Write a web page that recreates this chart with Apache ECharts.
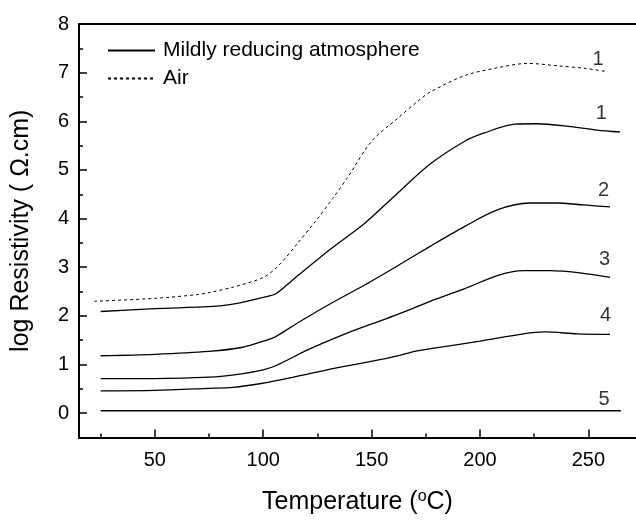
<!DOCTYPE html>
<html>
<head>
<meta charset="utf-8">
<script src="https://cdn.jsdelivr.net/npm/echarts@6/dist/echarts.min.js"></script>
<style>
html,body{margin:0;padding:0;background:#fff;}
#chart{width:636px;height:520px;}
</style>
</head>
<body>
<div id="chart"></div>
<script>
// Air (curve 1, dotted)
const airX = [22, 50, 70, 75, 86, 100, 107, 116, 124, 132, 139, 150, 162, 171, 177, 193, 208, 222, 236, 248, 259];
const airY = [2.30, 2.36, 2.44, 2.48, 2.59, 2.79, 3.03, 3.50, 3.94, 4.41, 4.85, 5.59, 6.06, 6.40, 6.60, 6.94, 7.10, 7.19, 7.14, 7.09, 7.02];
// Mildly reducing atmosphere, samples 1..5
const c1X = [25, 50, 75, 86, 101, 106, 116, 131, 147, 160, 177, 193, 202, 216, 226, 242, 254, 264.5];
const c1Y = [2.09, 2.15, 2.19, 2.24, 2.39, 2.46, 2.83, 3.37, 3.91, 4.44, 5.12, 5.59, 5.76, 5.94, 5.95, 5.89, 5.82, 5.78];
const c2X = [25, 50, 75, 90, 100, 106, 116, 131, 147, 162, 177, 193, 208, 223, 235, 248, 260];
const c2Y = [1.18, 1.21, 1.27, 1.35, 1.48, 1.58, 1.86, 2.25, 2.64, 3.03, 3.43, 3.84, 4.18, 4.32, 4.32, 4.28, 4.24];
const c3X = [25, 50, 75, 90, 100, 106, 121, 139, 156, 162, 171, 177, 193, 208, 220, 232, 247, 260];
const c3Y = [0.71, 0.71, 0.74, 0.81, 0.89, 0.98, 1.31, 1.65, 1.93, 2.03, 2.19, 2.30, 2.56, 2.83, 2.93, 2.93, 2.88, 2.79];
const c4X = [25, 50, 75, 86, 99, 116, 135, 155, 162, 171, 178, 200, 220, 230, 245, 260];
const c4Y = [0.46, 0.47, 0.51, 0.53, 0.61, 0.76, 0.94, 1.11, 1.18, 1.28, 1.33, 1.48, 1.63, 1.67, 1.63, 1.62];
const c5X = [25, 265];
const c5Y = [0.05, 0.05];
// Curve labels (text, x, y in data units)
const labelText = ['1', '1', '2', '3', '4', '5'];
const labelX = [254.5, 256, 257, 257.5, 258, 257.3];
const labelY = [7.27, 6.16, 4.57, 3.15, 2.01, 0.28];
// Ticks
const xMajor = [50, 100, 150, 200, 250];
const xMinor = [25, 75, 125, 175, 225];
const yMajor = [0, 1, 2, 3, 4, 5, 6, 7, 8];
const yMinor = [0.5, 1.5, 2.5, 3.5, 4.5, 5.5, 6.5, 7.5];

const FONT = 'Liberation Sans, Arial, sans-serif';
const zip = (xs, ys) => xs.map((x, i) => [x, ys[i]]);

const lineBase = { type: 'line', showSymbol: false, symbol: 'none', smooth: 0.3, animation: false, xAxisIndex: 0, yAxisIndex: 0 };

const series = [
  Object.assign({}, lineBase, { name: 'Mildly reducing atmosphere', data: zip(c1X, c1Y), lineStyle: { color: '#000', width: 1.3 }, itemStyle: { color: '#000' } }),
  Object.assign({}, lineBase, { name: 'Air', data: zip(airX, airY), lineStyle: { color: '#000', width: 1, type: [3, 3] }, itemStyle: { color: '#000' } }),
  Object.assign({}, lineBase, { name: 's2', data: zip(c2X, c2Y), lineStyle: { color: '#000', width: 1.3 } }),
  Object.assign({}, lineBase, { name: 's3', data: zip(c3X, c3Y), lineStyle: { color: '#000', width: 1.3 } }),
  Object.assign({}, lineBase, { name: 's4', data: zip(c4X, c4Y), lineStyle: { color: '#000', width: 1.3 } }),
  Object.assign({}, lineBase, { name: 's5', data: zip(c5X, c5Y), lineStyle: { color: '#000', width: 1.3 } }),
  {
    type: 'scatter', name: 'labels', xAxisIndex: 0, yAxisIndex: 0, silent: true, animation: false,
    symbolSize: 0, itemStyle: { color: '#000' },
    data: labelX.map((x, i) => ({ value: [x, labelY[i]], label: { formatter: labelText[i], color: '#000' } })),
    label: { show: true, position: 'inside', color: '#000', fontSize: 20, fontFamily: FONT, textBorderWidth: 0 }
  }
];

const axLine = { show: true, onZero: false, lineStyle: { color: '#000', width: 2 } };
const tickStyle = { color: '#000', width: 1.5 };

const option = {
  animation: false,
  backgroundColor: '#fff',
  textStyle: { fontFamily: FONT },
  grid: { left: 79, right: -4, top: 24, bottom: 76, containLabel: false },
  legend: {
    data: ['Mildly reducing atmosphere', 'Air'],
    orient: 'vertical', left: 102, top: 35,
    itemWidth: 47, itemHeight: 14, itemGap: 7,
    itemStyle: { opacity: 0 },
    textStyle: { fontSize: 21, color: '#000', fontFamily: FONT, lineHeight: 21, padding: [0, 0, 0, 3] }
  },
  xAxis: [
    {
      type: 'value', position: 'bottom', min: 15, max: 272,
      axisLine: axLine,
      axisTick: { show: true, inside: true, length: 8, lineStyle: tickStyle, customValues: xMajor },
      axisLabel: { show: true, margin: 13, fontSize: 20, color: '#000', fontFamily: FONT, customValues: xMajor },
      splitLine: { show: false },
      name: 'Temperature ({sup|o}C)', nameLocation: 'middle', nameGap: 51,
      nameTextStyle: { fontSize: 25, color: '#000', fontFamily: FONT, rich: { sup: { fontSize: 16, verticalAlign: 'top', padding: [0, 0, 12, 0], color: '#000', fontFamily: FONT } } }
    },
    {
      type: 'value', position: 'bottom', min: 15, max: 272,
      axisLine: { show: false, onZero: false },
      axisTick: { show: true, inside: true, length: 4, lineStyle: tickStyle, customValues: xMinor },
      axisLabel: { show: false }, splitLine: { show: false }
    },
    {
      type: 'value', position: 'top', min: 15, max: 272,
      axisLine: axLine, axisTick: { show: false }, axisLabel: { show: false }, splitLine: { show: false }
    }
  ],
  yAxis: [
    {
      type: 'value', position: 'left', min: -0.5, max: 8,
      axisLine: axLine,
      axisTick: { show: true, inside: true, length: 8, lineStyle: tickStyle, customValues: yMajor },
      axisLabel: { show: true, margin: 10, fontSize: 20, color: '#000', fontFamily: FONT, customValues: yMajor },
      splitLine: { show: false },
      name: 'log Resistivity ( \u03A9.cm)', nameLocation: 'middle', nameGap: 45,
      nameTextStyle: { fontSize: 25, color: '#000', fontFamily: FONT }
    },
    {
      type: 'value', position: 'left', min: -0.5, max: 8,
      axisLine: { show: false, onZero: false },
      axisTick: { show: true, inside: true, length: 4, lineStyle: tickStyle, customValues: yMinor },
      axisLabel: { show: false }, splitLine: { show: false }
    }
  ],
  series: series
};

const chart = echarts.init(document.getElementById('chart'), null, { renderer: 'canvas' });
chart.setOption(option);
</script>
</body>
</html>
